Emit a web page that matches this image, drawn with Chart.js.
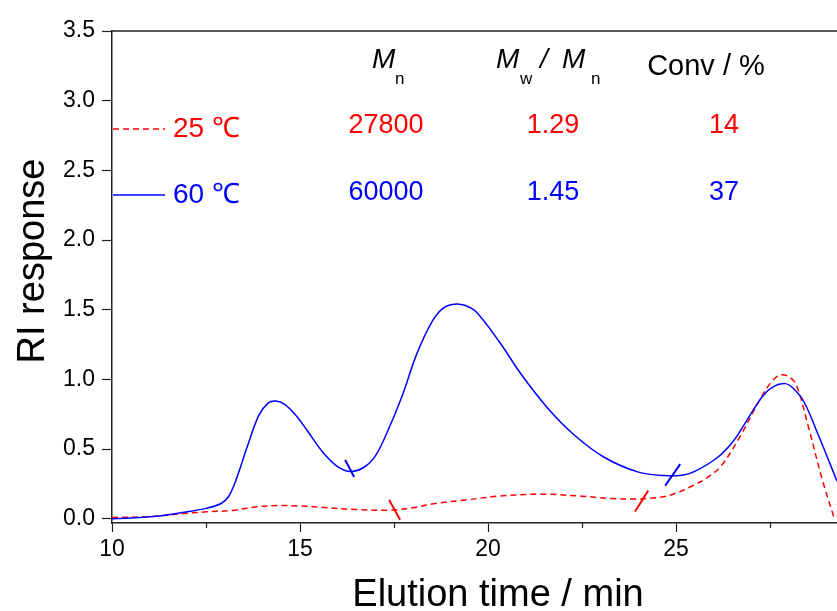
<!DOCTYPE html>
<html>
<head>
<meta charset="utf-8">
<script src="https://cdn.jsdelivr.net/npm/chart.js@4.4.0/dist/chart.umd.min.js"></script>
<style>
  html, body { margin: 0; padding: 0; background: #fff; }
  #wrap { width: 837px; height: 611px; }
</style>
</head>
<body>
<div id="wrap"><canvas id="gpcChart" width="837" height="611"></canvas></div>
<script>
// GPC traces, elution time (min) vs RI response
var time60 = [10.0, 10.5, 11.0, 11.5, 12.0, 12.5, 12.9, 13.1, 13.3, 13.6, 13.9, 14.15, 14.35, 14.6, 14.9, 15.2, 15.6, 16.0, 16.35, 16.7, 17.0, 17.3, 17.7, 18.1, 18.5, 18.8, 19.1, 19.4, 19.7, 20.3, 20.9, 21.6, 22.3, 23.1, 24.0, 24.7, 25.2, 25.5, 26.1, 26.5, 26.8, 27.3, 27.6, 27.9, 28.1, 28.4, 28.8, 29.28];
var ri60   = [0.0, 0.005, 0.015, 0.03, 0.05, 0.075, 0.11, 0.16, 0.28, 0.52, 0.74, 0.83, 0.845, 0.82, 0.74, 0.63, 0.48, 0.375, 0.34, 0.37, 0.45, 0.61, 0.87, 1.18, 1.41, 1.51, 1.54, 1.53, 1.48, 1.27, 1.03, 0.79, 0.60, 0.44, 0.335, 0.31, 0.315, 0.34, 0.44, 0.55, 0.67, 0.88, 0.95, 0.97, 0.94, 0.84, 0.59, 0.27];

var time25 = [10.0, 11.0, 12.0, 12.5, 13.2, 13.8, 14.4, 15.0, 15.5, 16.5, 17.4, 18.0, 18.6, 19.4, 20.3, 21.4, 22.5, 23.3, 23.9, 24.5, 24.9, 25.4, 25.8, 26.2, 26.7, 27.2, 27.5, 27.75, 28.0, 28.2, 28.5, 28.9, 29.2];
var ri25   = [0.01, 0.016, 0.04, 0.05, 0.06, 0.085, 0.095, 0.092, 0.084, 0.066, 0.062, 0.08, 0.11, 0.135, 0.163, 0.177, 0.162, 0.145, 0.142, 0.152, 0.175, 0.232, 0.29, 0.38, 0.59, 0.84, 0.97, 1.03, 1.02, 0.96, 0.68, 0.27, 0.01];

// integration limit marks (start, end of each short stroke)
var limits60X = [[16.2, 16.44], [24.71, 25.11]];
var limits60Y = [[0.423, 0.30], [0.237, 0.392]];
var limits25X = [[17.37, 17.66], [23.91, 24.26]];
var limits25Y = [[0.136, -0.007], [0.052, 0.203]];

var xTicks = [10, 15, 20, 25];
var xMinorTicks = [12.5, 17.5, 22.5, 27.5];
var yTicks = [0, 0.5, 1.0, 1.5, 2.0, 2.5, 3.0, 3.5];

var seriesNames = ['25 \u2103', '60 \u2103'];
var mnValues = ['27800', '60000'];
var pdiValues = ['1.29', '1.45'];
var convValues = ['14', '37'];

var red = '#ff0000', blue = '#0000ff';
var fontFam = '"Liberation Sans", Arial, sans-serif';

function pts(xs, ys) {
  return xs.map(function (x, i) { return { x: x, y: ys[i] }; });
}

function limitSets(xs, ys, color) {
  return xs.map(function (x, i) {
    return {
      data: pts(x, ys[i]),
      borderColor: color,
      borderWidth: 2,
      pointRadius: 0,
      tension: 0
    };
  });
}

var datasets = [
  {
    label: seriesNames[1],
    data: pts(time60, ri60),
    borderColor: blue,
    borderWidth: 1.5,
    pointRadius: 0,
    tension: 0.35
  },
  {
    label: seriesNames[0],
    data: pts(time25, ri25),
    borderColor: red,
    borderWidth: 1.5,
    borderDash: [6, 4],
    pointRadius: 0,
    tension: 0.35
  }
].concat(limitSets(limits60X, limits60Y, blue), limitSets(limits25X, limits25Y, red));

// extra drawing: top frame line, minor ticks, legend, table and axis titles
var decorations = {
  id: 'decorations',
  afterDraw: function (chart) {
    var ctx = chart.ctx, area = chart.chartArea, xs = chart.scales.x;
    ctx.save();

    ctx.strokeStyle = '#222';
    ctx.lineWidth = 1.5;
    ctx.beginPath();
    ctx.moveTo(area.left, area.top);
    ctx.lineTo(area.right, area.top);
    ctx.stroke();

    ctx.lineWidth = 1.2;
    xMinorTicks.forEach(function (v) {
      var px = Math.round(xs.getPixelForValue(v)) + 0.5;
      ctx.beginPath();
      ctx.moveTo(px, area.bottom);
      ctx.lineTo(px, area.bottom + 5);
      ctx.stroke();
    });

    // legend
    ctx.lineWidth = 1.5;
    ctx.strokeStyle = red;
    ctx.setLineDash([6, 4]);
    ctx.beginPath(); ctx.moveTo(113, 129); ctx.lineTo(165, 129); ctx.stroke();
    ctx.setLineDash([]);
    ctx.strokeStyle = blue;
    ctx.beginPath(); ctx.moveTo(113, 195); ctx.lineTo(165, 195); ctx.stroke();

    ctx.textBaseline = 'alphabetic';
    ctx.font = '28px ' + fontFam;
    ctx.textAlign = 'left';
    ctx.fillStyle = red;
    ctx.fillText(seriesNames[0], 173, 137);
    ctx.fillStyle = blue;
    ctx.fillText(seriesNames[1], 173, 203);

    // table header
    ctx.fillStyle = '#000';
    ctx.font = 'italic 28px ' + fontFam;
    ctx.fillText('M', 372, 68);
    ctx.fillText('M', 496, 68);
    ctx.fillText('/', 540, 68);
    ctx.fillText('M', 562, 68);
    ctx.font = '17px ' + fontFam;
    ctx.fillText('n', 395, 84);
    ctx.fillText('w', 520, 84);
    ctx.fillText('n', 591, 84);
    ctx.font = '29px ' + fontFam;
    ctx.textAlign = 'center';
    ctx.fillText('Conv / %', 706, 75);

    // table values
    ctx.font = '27px ' + fontFam;
    var rowY = [133, 200], rowC = [red, blue];
    for (var i = 0; i < 2; i++) {
      ctx.fillStyle = rowC[i];
      ctx.fillText(mnValues[i], 386, rowY[i]);
      ctx.fillText(pdiValues[i], 553, rowY[i]);
      ctx.fillText(convValues[i], 724, rowY[i]);
    }

    // axis titles
    ctx.fillStyle = '#000';
    ctx.font = '38px ' + fontFam;
    ctx.fillText('Elution time / min', 498, 606);
    ctx.translate(44, 261);
    ctx.rotate(-Math.PI / 2);
    ctx.font = '38px ' + fontFam;
    ctx.fillText('RI response', 0, 0);
    ctx.restore();
  }
};

var tickFont = { family: fontFam, size: 23 };

new Chart(document.getElementById('gpcChart'), {
  type: 'line',
  data: { datasets: datasets },
  options: {
    responsive: false,
    animation: false,
    devicePixelRatio: 1,
    layout: { padding: { left: 0, right: 0, top: 31, bottom: 0 } },
    plugins: { legend: { display: false }, tooltip: { enabled: false } },
    scales: {
      x: {
        type: 'linear',
        min: 10,
        max: 29.28,
        afterBuildTicks: function (s) { s.ticks = xTicks.map(function (v) { return { value: v }; }); },
        afterFit: function (s) { s.height = 88; },
        ticks: { font: tickFont, color: '#000', padding: 4, maxRotation: 0 },
        grid: { drawOnChartArea: false, tickLength: 9, tickColor: '#222', tickWidth: 1.2 },
        border: { color: '#222', width: 1.5 }
      },
      y: {
        type: 'linear',
        min: -0.03,
        max: 3.5,
        afterBuildTicks: function (s) { s.ticks = yTicks.map(function (v) { return { value: v }; }); },
        afterFit: function (s) { s.width = 112; },
        ticks: {
          font: tickFont, color: '#000', padding: 7,
          callback: function (v) { return Number(v).toFixed(1); }
        },
        grid: { drawOnChartArea: false, tickLength: 10, tickColor: '#222', tickWidth: 1.2 },
        border: { color: '#222', width: 1.5 }
      }
    }
  },
  plugins: [decorations]
});
</script>
</body>
</html>
